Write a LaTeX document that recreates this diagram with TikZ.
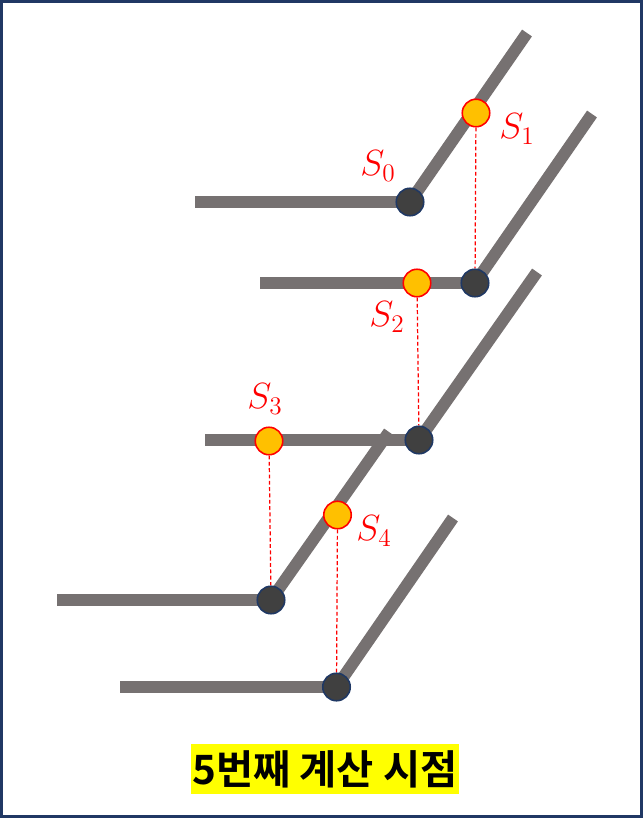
\documentclass[tikz,border=0pt]{standalone}
\usepackage{fontspec}
\newfontfamily\krfont{Noto Sans CJK KR}[BoldFont={Noto Sans CJK KR Bold}]
\definecolor{bargray}{HTML}{767171}
\definecolor{jointdark}{HTML}{404040}
\definecolor{jointnavy}{HTML}{1F3864}
\definecolor{sampleyellow}{HTML}{FFC000}
\definecolor{framenavy}{HTML}{203864}
\definecolor{tagyellow}{HTML}{FFFF00}
\usetikzlibrary{backgrounds}

\begin{document}
\begin{tikzpicture}[x=0.02cm,y=-0.02cm,
  bar/.style={draw=bargray,line width=6.8pt},
  joint/.style={circle,draw=jointnavy,fill=jointdark,line width=0.9pt,
                minimum size=0.55cm,inner sep=0pt},
  sample/.style={circle,draw=red,fill=sampleyellow,line width=0.9pt,
                 minimum size=0.55cm,inner sep=0pt},
  drop/.style={draw=red,line width=0.7pt,dash pattern=on 2.2pt off 1.4pt},
  slabel/.style={text=red,font=\fontsize{21}{21}\selectfont}]
  % page and frame
  \useasboundingbox (0,0) rectangle (643,818);
  \draw[framenavy,line width=1.6pt] (1.5,1.5) rectangle (641.5,816.5);

  % bar ends
  \coordinate (a0) at (195,202);  \coordinate (e0) at (527,33);
  \coordinate (a1) at (260,283);  \coordinate (e1) at (592,114);
  \coordinate (a2) at (205,440);  \coordinate (e2) at (537,272);
  \coordinate (a3) at (57,600);   \coordinate (e3) at (389,432);
  \coordinate (a4) at (120,687);  \coordinate (e4) at (453,518);

  % joints
  \node[joint] (j0) at (410,202) {};
  \node[joint] (j1) at (475,283) {};
  \node[joint] (j2) at (419,440) {};
  \node[joint] (j3) at (271,600) {};
  \node[joint] (j4) at (336.5,687) {};

  % sample points
  \node[sample] (s1) at (476,113) {};
  \node[sample] (s2) at (417,283) {};
  \node[sample] (s3) at (269,441) {};
  \node[sample] (s4) at (337.5,515) {};

  % labels
  \node[slabel] (l0) at (378,166) {$S_0$};
  \node[slabel] (l1) at (517,129) {$S_1$};
  \node[slabel] (l2) at (387,317) {$S_2$};
  \node[slabel] (l3) at (265,399) {$S_3$};
  \node[slabel] (l4) at (374,531) {$S_4$};

  \begin{pgfonlayer}{background}
    % bent bars
    \draw[bar] (a0) -- (j0.center) -- (e0);
    \draw[bar] (a1) -- (j1.center) -- (e1);
    \draw[bar] (a2) -- (j2.center) -- (e2);
    \draw[bar] (a3) -- (j3.center) -- (e3);
    \draw[bar] (a4) -- (j4.center) -- (e4);
    % drop lines
    \draw[drop] (s1) -- (j1);
    \draw[drop] (s2) -- (j2);
    \draw[drop] (s3) -- (j3);
    \draw[drop] (s4) -- (j4);
  \end{pgfonlayer}

  % caption
  \node[fill=tagyellow,inner xsep=1pt,inner ysep=0pt,minimum height=1cm,
        font=\krfont\bfseries\fontsize{23}{23}\selectfont] (tag) at (325,769)
        {5번째 계산 시점};
\end{tikzpicture}
\end{document}
